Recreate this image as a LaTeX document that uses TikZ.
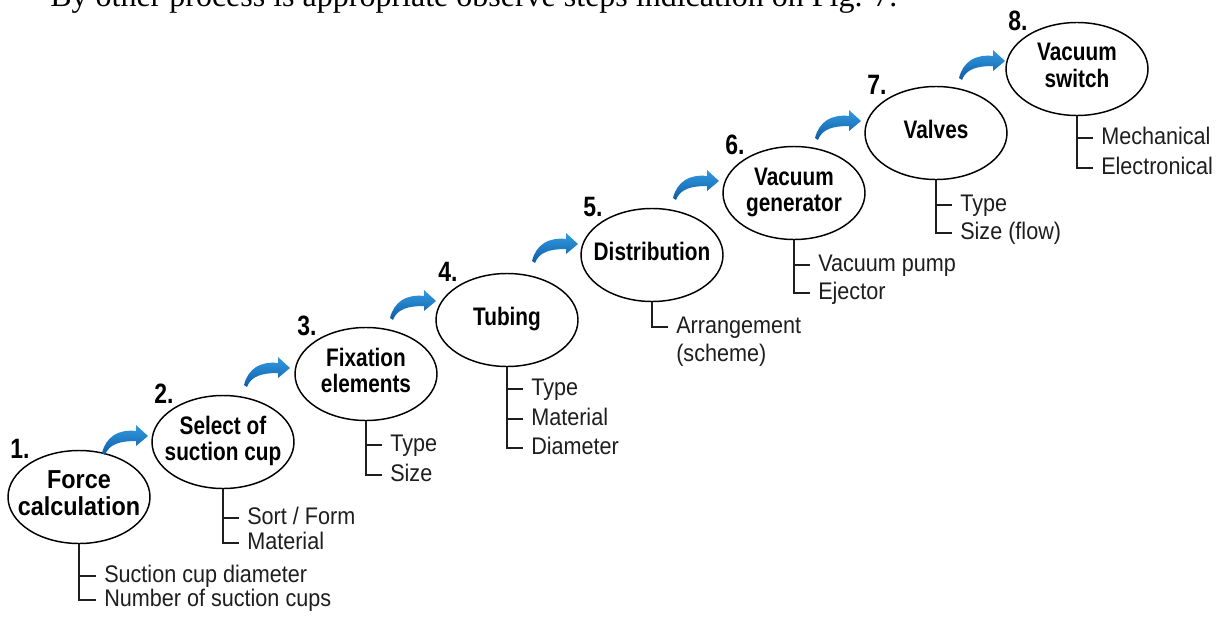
\documentclass[tikz,border=0pt]{standalone}
\usepackage{fontspec}
\setmainfont{Liberation Sans}
\newfontfamily\serifcap{Liberation Serif}
\newfontfamily\narrowsans[FakeStretch=0.82]{Liberation Sans}
\newfontfamily\itemsans[FakeStretch=0.9]{Liberation Sans}
\usetikzlibrary{shapes.geometric,calc}

\definecolor{arrowtop}{RGB}{50,155,225}
\definecolor{arrowbot}{RGB}{14,92,165}
\definecolor{inkgray}{RGB}{30,30,30}

\newcommand\zw[1]{\makebox[0pt]{\begin{tabular}{@{}c@{}}#1\end{tabular}}}

\tikzset{
  stepell/.style={draw=black, line width=1.1pt, shape=ellipse,
    minimum width=106.5pt, minimum height=69.75pt, inner sep=0pt,
    font=\narrowsans\bfseries\fontsize{19}{20}\selectfont},
  bigtext/.style={font=\itemsans\bfseries\fontsize{19.5}{20}\selectfont},
  numlabel/.style={font=\narrowsans\bfseries\fontsize{21}{24}\selectfont, inner sep=0pt},
  item/.style={font=\itemsans\fontsize{18}{20}\selectfont, inner sep=0pt, anchor=west,
    text height=13pt, text depth=4pt, text=inkgray},
  treeline/.style={line width=1pt, draw=inkgray, shorten >=6pt},
  pics/swoosh/.style={code={
    \shade[top color=arrowtop, bottom color=arrowbot]
      (0,0) .. controls (4,-11) and (15,-14) .. (31,-14)
      -- (31,-9) -- (43,-19) -- (31,-30) -- (31,-24)
      .. controls (13,-26) and (1,-18) .. (-3,-2) -- cycle;
  }}
}

\begin{document}
\begin{tikzpicture}[x=0.75pt,y=-0.75pt]
\useasboundingbox (0,0) rectangle (1220,617);
\clip (0,0) rectangle (1220,617);
\fill[white] (0,0) rectangle (1220,617);

% cut-off caption line at the top
\node[font=\serifcap\fontsize{24}{28}\selectfont, anchor=base west, inner sep=0pt] (caption) at (50,7)
  {By other process is appropriate observe steps indication on Fig. 7.};

% steps
\node[stepell, bigtext] (e1) at (79,497)  {\zw{Force\\calculation}};
\node[stepell] (e2) at (223,442) {\zw{Select of\\suction cup}};
\node[stepell] (e3) at (366,374) {\zw{Fixation\\elements}};
\node[stepell] (e4) at (507,320) {\zw{Tubing}};
\node[stepell] (e5) at (652,255) {\zw{Distribution}};
\node[stepell] (e6) at (794,193) {\zw{Vacuum\\generator}};
\node[stepell] (e7) at (936,133) {\zw{Valves}};
\node[stepell] (e8) at (1077,69) {\zw{Vacuum\\switch}};

% numbers
\node[numlabel] (n1) at ($(e1)+(-59,-48)$) {1.};
\node[numlabel] (n2) at ($(e2)+(-59,-48)$) {2.};
\node[numlabel] (n3) at ($(e3)+(-59,-48)$) {3.};
\node[numlabel] (n4) at ($(e4)+(-59,-48)$) {4.};
\node[numlabel] (n5) at ($(e5)+(-59,-48)$) {5.};
\node[numlabel] (n6) at ($(e6)+(-59,-48)$) {6.};
\node[numlabel] (n7) at ($(e7)+(-59,-48)$) {7.};
\node[numlabel] (n8) at ($(e8)+(-59,-48)$) {8.};

% blue arrows
\pic at (105,455) {swoosh};
\pic at (247,387) {swoosh};
\pic at (393,320) {swoosh};
\pic at (535,263) {swoosh};
\pic at (676,200) {swoosh};
\pic at (818,140) {swoosh};
\pic at (962,80)  {swoosh};

% sub items
\node[item] (e1a) at (104,576) {Suction cup diameter};
\node[item] (e1b) at (104,600) {Number of suction cups};
\draw[treeline] (e1.south |- e1a.west) -- (e1a.west);
\draw[treeline] (e1.south) |- (e1b.west);

\node[item] (e2a) at (247,518) {Sort / Form};
\node[item] (e2b) at (247,543) {Material};
\draw[treeline] (e2.south |- e2a.west) -- (e2a.west);
\draw[treeline] (e2.south) |- (e2b.west);

\node[item] (e3a) at (390,445) {Type};
\node[item] (e3b) at (390,475) {Size};
\draw[treeline] (e3.south |- e3a.west) -- (e3a.west);
\draw[treeline] (e3.south) |- (e3b.west);

\node[item] (e4a) at (531,389) {Type};
\node[item] (e4b) at (531,419) {Material};
\node[item] (e4c) at (531,448) {Diameter};
\draw[treeline] (e4.south |- e4a.west) -- (e4a.west);
\draw[treeline] (e4.south |- e4b.west) -- (e4b.west);
\draw[treeline] (e4.south) |- (e4c.west);

\node[item] (e5a) at (676,327) {Arrangement};
\node[item] (e5b) at (676,355) {(scheme)};
\draw[treeline] (e5.south) |- (e5a.west);

\node[item] (e6a) at (818,265) {Vacuum pump};
\node[item] (e6b) at (818,293) {Ejector};
\draw[treeline] (e6.south |- e6a.west) -- (e6a.west);
\draw[treeline] (e6.south) |- (e6b.west);

\node[item] (e7a) at (960,205) {Type};
\node[item] (e7b) at (960,233) {Size (flow)};
\draw[treeline] (e7.south |- e7a.west) -- (e7a.west);
\draw[treeline] (e7.south) |- (e7b.west);

\node[item] (e8a) at (1101,138) {Mechanical};
\node[item] (e8b) at (1101,168) {Electronical};
\draw[treeline] (e8.south |- e8a.west) -- (e8a.west);
\draw[treeline] (e8.south) |- (e8b.west);
\end{tikzpicture}
\end{document}
